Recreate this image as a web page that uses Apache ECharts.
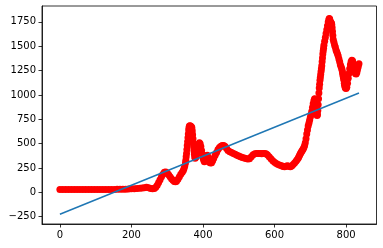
<!DOCTYPE html>
<html>
<head>
<meta charset="utf-8">
<script src="https://cdn.jsdelivr.net/npm/echarts@6/dist/echarts.min.js"></script>
<style>
html,body{margin:0;padding:0;background:#fff;}
#chart{width:383px;height:248px;}
</style>
</head>
<body>
<div id="chart"></div>
<script>
// Scatter points (x index, price)
const xValues = [0,8,16,24,32,40,48,56,64,72,80,88,96,104,112,120,128,136,144,152,160,168,176,184,192,200,208,216,224,
230,236,242,248,254,259,264,268,272,276,280,284,288,292,296,300,304,308,312,316,320,323,326,330,334,338,342,345,347,349,351,352,353,354,355,356,357,358,359,360,361,362,364,366,368,369,370,371,372,373,374,375,376,377,378,380,382,384,386,388,390,392,394,396,398,400,402,404,406,408,410,412,414,416,418,421,424,427,430,434,438,442,446,450,454,458,462,466,470,475,480,485,490,495,500,505,510,515,520,525,530,535,540,545,550,555,560,564,568,572,576,580,585,590,595,600,605,610,615,620,624,628,632,636,640,644,648,652,656,660,663,666,668,670,672,674,676,678,680,682,684,686,688,690,692,694,696,698,700,702,704,706,708,710,712,713,714,715,716,717,718,719,720,721,722,723,724,725,726,727,728,729,730,731,732,733,734,735,736,737,738,740,742,744,746,748,750,752,753,754,755,756,757,758,759,760,761,762,763,764,766,768,770,772,774,776,778,780,782,784,786,788,789,790,791,792,793,794,795,796,797,798,800,802,804,806,808,810,812,814,816,818,820,822,824,826,828,830,832,834,836];
const yValues = [30,30,30,30,30,30,30,30,30,30,30,30,30,30,30,30,30,30,30,30,31,31,32,33,34,36,38,40,42,
45,48,52,48,40,36,40,52,72,100,130,160,185,205,208,198,180,160,140,125,112,108,115,135,160,185,205,225,245,270,300,330,365,400,440,480,520,560,600,640,665,680,684,678,672,660,630,590,550,505,465,425,390,365,350,360,390,430,470,495,510,500,470,430,390,355,330,315,325,350,375,380,360,330,310,300,305,325,350,380,410,440,460,472,480,482,470,450,430,418,410,400,390,380,372,365,358,352,348,342,345,365,385,395,400,400,398,395,398,400,395,385,365,345,325,310,295,285,278,272,266,262,268,272,268,262,270,285,300,318,335,350,365,380,395,410,422,432,445,460,480,510,550,600,640,680,710,740,770,800,830,870,910,940,960,955,930,900,870,840,810,790,800,840,900,960,1020,1070,1110,1150,1180,1210,1240,1270,1300,1340,1380,1420,1450,1480,1510,1550,1590,1630,1670,1710,1750,1775,1785,1780,1765,1750,1745,1740,1735,1720,1690,1650,1610,1570,1540,1510,1490,1460,1440,1420,1400,1370,1340,1310,1290,1270,1250,1230,1210,1190,1170,1150,1120,1100,1085,1070,1065,1080,1120,1170,1220,1270,1310,1340,1355,1350,1320,1280,1240,1220,1215,1230,1260,1290,1320,1335,1330,1310,1280,1260,1250,1270,1300,1340,1365,1330];
// Fitted trend line end points
const lineX = [0, 836];
const lineY = [-225, 1020];
// Tick labels
const xTicks = [0, 200, 400, 600, 800];
const yTicks = [-250, 0, 250, 500, 750, 1000, 1250, 1500, 1750];

const scatterData = xValues.map((x, i) => [x, yValues[i]]);
const lineData = lineX.map((x, i) => [x, lineY[i]]);
const fmt = v => String(v).replace('-', '\u2212');
const font = {fontFamily: 'DejaVu Sans', fontSize: 10, color: '#000'};

const chart = echarts.init(document.getElementById('chart'), null, {renderer: 'canvas'});
chart.setOption({
  animation: false,
  backgroundColor: '#fff',
  grid: {left: 42, right: 6.5, top: 6, bottom: 24, show: true, borderColor: '#000', borderWidth: 0.8, containLabel: false},
  xAxis: {
    type: 'value', min: -50, max: 885,
    splitLine: {show: false},
    axisLine: {show: true, onZero: false, lineStyle: {color: '#000', width: 0.8}},
    axisTick: {show: true, inside: false, length: 3.5, lineStyle: {color: '#000', width: 0.8}, customValues: xTicks},
    axisLabel: Object.assign({margin: 6, formatter: fmt, customValues: xTicks}, font)
  },
  yAxis: {
    type: 'value', min: -325, max: 1913,
    splitLine: {show: false},
    axisLine: {show: true, onZero: false, lineStyle: {color: '#000', width: 0.8}},
    axisTick: {show: true, inside: false, length: 3.5, lineStyle: {color: '#000', width: 0.8}, customValues: yTicks},
    axisLabel: Object.assign({margin: 6, formatter: fmt, customValues: yTicks}, font)
  },
  series: [
    {
      type: 'scatter', data: scatterData, symbol: 'circle', symbolSize: 7,
      itemStyle: {color: '#ff0000', opacity: 1}, z: 2
    },
    {
      type: 'line', data: lineData, showSymbol: false, symbol: 'none',
      lineStyle: {color: '#1f77b4', width: 1.5}, z: 3
    }
  ]
});
</script>
</body>
</html>
